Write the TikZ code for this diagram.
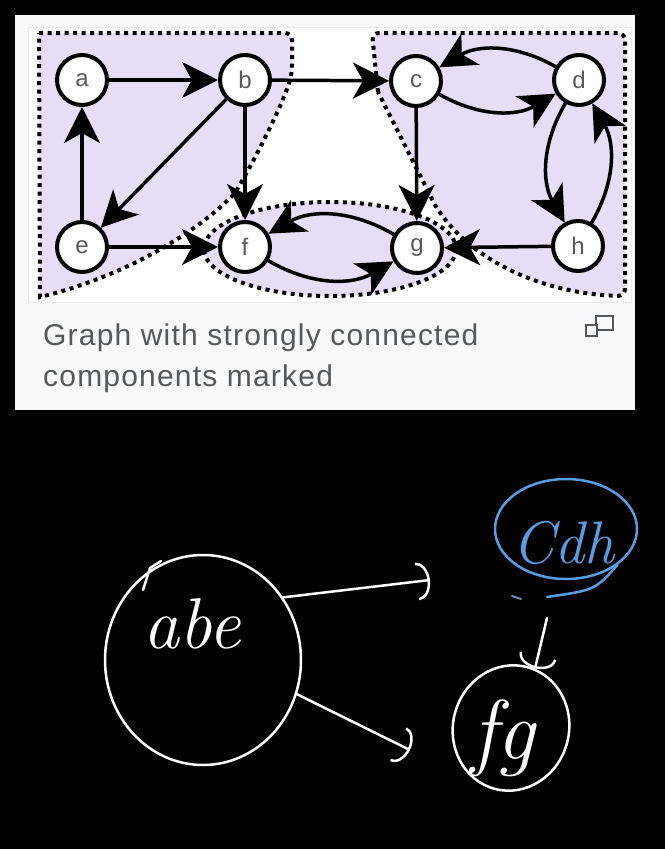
\documentclass[tikz,border=0pt]{standalone}
\usepackage{fontspec}
\usetikzlibrary{arrows.meta,shapes.geometric}
\newfontfamily\capfont{Liberation Sans}
\definecolor{scclav}{RGB}{230,222,247}
\definecolor{capbg}{RGB}{248,249,250}
\definecolor{captxt}{RGB}{84,89,93}
\definecolor{penblue}{RGB}{85,158,228}
\tikzset{
  vert/.style={circle, draw=black, line width=4pt, fill=white, minimum size=50pt,
    inner sep=0pt, font=\capfont\fontsize{24}{24}\selectfont, text=black!65},
  sccedge/.style={line width=3.5pt, -{Stealth[length=36pt,width=36pt,inset=10pt]}},
  sccregion/.style={fill=scclav, draw=black, line width=4pt, dash pattern=on 4pt off 4.5pt},
  pen/.style={draw=white, line width=2.5pt, line cap=round, line join=round},
  penarrow/.style={pen, -{Arc Barb[length=13pt,width=38pt]}},
}
\begin{document}
\begin{tikzpicture}[x=1pt, y=-1pt]
    % screen behind the thumbnail
    \useasboundingbox (0,0) rectangle (665,849);
    \fill[black] (0,0) rectangle (665,849);

    % thumbnail box and image area
    \fill[capbg] (15,15) rectangle (635,410);
    \fill[white, draw=black!8, line width=1pt] (28,27) rectangle (631,302);

    % strongly connected components: abe, cdh, fg
    \draw[sccregion, rounded corners=7pt] (39,33) -- (292,33) -- (292,72) [sharp corners]
        .. controls (285,100) and (255,160) .. (235,193)
        .. controls (195,235) and (120,278) .. (40,297) -- cycle;
    \draw[sccregion, rounded corners=7pt] (378,92) -- (372,33) -- (625,33) -- (625,296) [sharp corners]
        .. controls (545,294) and (470,262) .. (435,205) -- cycle;
    \draw[sccregion] (330,249) ellipse [x radius=126, y radius=47];

    % vertices
    \node[vert] (a) at (82,80) {a};
    \node[vert] (b) at (245,80) {b};
    \node[vert] (c) at (416,81) {c};
    \node[vert] (d) at (579,80) {d};
    \node[vert] (e) at (82,247) {e};
    \node[vert] (f) at (245,247) {f};
    \node[vert] (g) at (417,248) {g};
    \node[vert] (h) at (578,246) {h};

    % straight edges
    \draw[sccedge] (a) -- (b);
    \draw[sccedge] (e) -- (a);
    \draw[sccedge] (b) -- (e);
    \draw[sccedge] (b) -- (f);
    \draw[sccedge] (e) -- (f);
    \draw[sccedge] (b) -- (c);
    \draw[sccedge] (c) -- (g);
    \draw[sccedge] (h) -- (g);

    % pairs of bent edges
    \draw[sccedge] (c) to[bend right=30] (d);
    \draw[sccedge] (d) to[bend right=30] (c);
    \draw[sccedge] (d) to[bend right=30] (h);
    \draw[sccedge] (h) to[bend right=30] (d);
    \draw[sccedge] (f) to[bend right=30] (g);
    \draw[sccedge] (g) to[bend right=30] (f);

    % caption and enlarge icon
    \node[anchor=base west, inner sep=0pt, text=captxt,
        font=\capfont\fontsize{30}{30}\selectfont\addfontfeature{LetterSpace=4}]
        (capone) at (43,345) {Graph with strongly connected};
    \node[anchor=base west, inner sep=0pt, text=captxt,
        font=\capfont\fontsize{30}{30}\selectfont\addfontfeature{LetterSpace=4}]
        (captwo) at (43,386) {components marked};
    \draw[captxt, line width=2pt] (596,316) rectangle (613,330);
    \draw[captxt, line width=2pt, fill=capbg] (586,325) rectangle (597,336);

    % hand drawn condensed graph
    \node[ellipse, pen, minimum width=196pt, minimum height=210pt] (sccabe) at (203,660) {};
    \node[text=white, font=\itshape\fontsize{72}{72}\selectfont]
        (abetext) at (192,624) {abe};
    \draw[pen] (143,590) -- (150,568) -- (161,561);

    \node[ellipse, pen, draw=penblue, minimum width=142pt, minimum height=100pt] (scccdh) at (566,529) {};
    \draw[pen, draw=penblue] (scccdh.-35) .. controls (595,590) .. (547,597);
    \node[text=penblue, font=\itshape\fontsize{60}{60}\selectfont] (cdhtext) at (563,543) {Cdh};
    \draw[line width=2pt, line cap=round, draw=penblue!40!gray] (512,596) -- (521,599);

    \node[ellipse, pen, minimum width=116pt, minimum height=126pt, rotate=-15] (sccfg) at (511,728) {};
    \node[text=white, font=\itshape\fontsize{85}{85}\selectfont] (fgtext) at (503,738) {fg};

    % arrows between components
    \coordinate (tocdh) at (430,580);
    \coordinate (tofg) at (410,750);
    \coordinate (fromcdh) at (547,618);
    \draw[penarrow] (sccabe.38) -- (tocdh);
    \draw[penarrow] (sccabe.-20) -- (tofg);
    \draw[penarrow] (fromcdh) -- (sccfg.83);
\end{tikzpicture}
\end{document}
